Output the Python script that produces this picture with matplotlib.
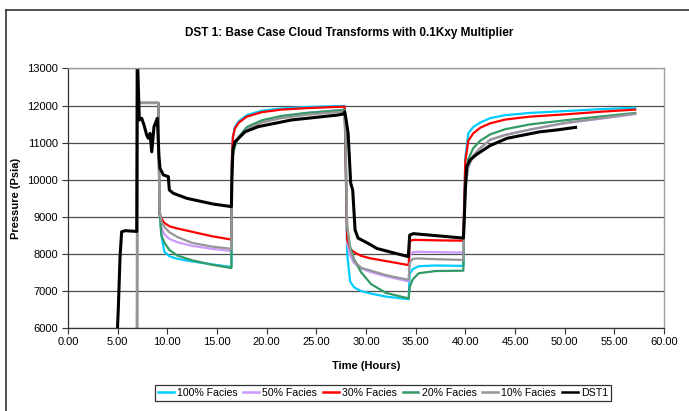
import matplotlib
matplotlib.use("Agg")
import matplotlib.pyplot as plt
from matplotlib.lines import Line2D

plt.rcParams['font.family'] = ['Liberation Sans', 'DejaVu Sans']

# ---------------- data ----------------
t_sim = [6.95, 6.96, 9.10, 9.20, 9.40, 9.70, 10.2, 11.0, 12.5, 14.5, 16.45,
         16.5, 16.6, 16.8, 17.2, 18.0, 19.5, 21.5, 24.0, 27.85,
         27.95, 28.1, 28.4, 28.8, 29.5, 30.5, 32.0, 34.3,
         34.4, 34.7, 35.3, 37.0, 39.8,
         39.9, 40.0, 40.3, 40.8, 41.5, 42.5, 44.0, 46.5, 50.0, 53.5, 57.1]

p_100 = [5900, 12070, 12070, 9300, 8500, 8050, 7930, 7860, 7790, 7710, 7640,
         10500, 11150, 11420, 11580, 11740, 11860, 11920, 11960, 11990,
         10500, 8000, 7250, 7090, 6990, 6920, 6840, 6770,
         7450, 7580, 7660, 7680, 7670,
         9500, 10600, 11250, 11420, 11540, 11660, 11740, 11800, 11850, 11900, 11940]

p_50 = [5900, 12070, 12070, 9100, 8700, 8520, 8400, 8310, 8210, 8130, 8070,
        10450, 10850, 11000, 11150, 11360, 11560, 11700, 11800, 11890,
        10600, 8300, 7950, 7750, 7600, 7500, 7390, 7250,
        7950, 8040, 8050, 8040, 8030,
        9000, 9800, 10340, 10640, 10850, 11070, 11210, 11350, 11520, 11640, 11770]

p_30 = [5900, 12070, 12070, 9100, 8950, 8830, 8740, 8680, 8590, 8470, 8380,
        10600, 11150, 11380, 11540, 11700, 11820, 11890, 11930, 11970,
        10500, 8400, 8130, 8040, 7940, 7870, 7800, 7690,
        8330, 8370, 8370, 8360, 8350,
        9500, 10500, 11050, 11250, 11400, 11520, 11620, 11700, 11760, 11830, 11890]

p_20 = [5900, 12070, 12070, 9200, 8500, 8300, 8100, 7950, 7820, 7700, 7610,
        10300, 10650, 10900, 11150, 11420, 11600, 11720, 11800, 11880,
        10800, 8700, 8190, 7850, 7500, 7180, 6940, 6790,
        7100, 7300, 7470, 7530, 7540,
        9000, 9800, 10550, 10850, 11050, 11220, 11360, 11490, 11600, 11700, 11800]

p_10 = [5900, 12070, 12070, 9200, 8880, 8720, 8580, 8450, 8290, 8190, 8130,
        10400, 10800, 11000, 11120, 11350, 11540, 11660, 11750, 11840,
        11000, 8800, 8100, 7800, 7620, 7540, 7420, 7290,
        7750, 7860, 7870, 7850, 7830,
        9000, 9800, 10350, 10650, 10850, 11080, 11200, 11350, 11530, 11650, 11780]

t_dst = [4.95, 5.06, 5.24, 5.40, 5.74, 6.92, 6.97, 7.18, 7.42, 7.65, 7.92, 8.09,
         8.26, 8.43, 8.66, 8.99, 9.16, 9.26, 9.60, 10.1, 10.2, 10.6, 11.95, 14.6,
         16.45, 16.5, 16.6, 16.81, 17.82, 19.16, 22.5, 27.2, 27.7, 27.86,
         27.95, 28.2, 28.46, 28.66, 28.7, 28.9, 29.2, 30.2, 31.1, 32.5, 34.26,
         34.4, 34.76, 39.8, 39.9, 40.0, 40.14, 40.47, 41.14, 42.5, 44.2, 45.8,
         47.5, 49.2, 51.1]
p_dst = [5800, 6480, 7920, 8590, 8620, 8600, 13500, 11610, 11655, 11475, 11205, 11115,
         11250, 10750, 11430, 11655, 10620, 10305, 10125, 10080, 9720, 9630, 9495, 9340,
         9270, 10000, 10800, 11020, 11290, 11430, 11610, 11745, 11770, 11830,
         11700, 11250, 9900, 9720, 9540, 8640, 8420, 8280, 8140, 8040, 7920,
         8500, 8540, 8420, 9000, 9720, 10350, 10530, 10680, 10920, 11115, 11200,
         11290, 11340, 11410]

labels = ['100% Facies', '50% Facies', '30% Facies', '20% Facies', '10% Facies', 'DST1']
colors = ['#00CCFF', '#CC99FF', '#FF0000', '#339966', '#969696', '#000000']

x_ticks = [0, 5, 10, 15, 20, 25, 30, 35, 40, 45, 50, 55, 60]
y_ticks = [6000, 7000, 8000, 9000, 10000, 11000, 12000, 13000]

# ---------------- figure ----------------
fig = plt.figure(figsize=(6.89, 4.11), dpi=100)
ax = fig.add_axes([68/689, 1-327.7/411, (664-68)/689, (327.7-68.5)/411])

series = [p_100, p_50, p_30, p_20, p_10]
for p, lab, c in zip(series, labels[:5], colors[:5]):
    ax.plot(t_sim, p, color=c, lw=1.6, label=lab, solid_joinstyle='round')
ax.plot(t_dst, p_dst, color=colors[5], lw=2.2, label=labels[5], solid_joinstyle='round')

ax.set_xlim(0, 60)
ax.set_ylim(6000, 13000)
ax.set_xticks(x_ticks)
ax.set_xticklabels([f"{v:.2f}" for v in x_ticks], fontsize=8)
ax.set_yticks(y_ticks)
ax.set_yticklabels([str(v) for v in y_ticks], fontsize=8)
ax.tick_params(direction='out', length=4, width=0.8, color='#333333', pad=3)

ax.yaxis.grid(True, color='#4d4d4d', lw=0.9)
ax.set_axisbelow(True)
for s in ['top', 'right']:
    ax.spines[s].set_color('#a0a0a0')
    ax.spines[s].set_linewidth(1.0)
for s in ['left', 'bottom']:
    ax.spines[s].set_color('#333333')
    ax.spines[s].set_linewidth(0.9)

fig.text(349/689, 1-33/411, 'DST 1: Base Case Cloud Transforms with 0.1Kxy Multiplier',
         ha='center', va='center', fontsize=8.5, fontweight='bold')
fig.text(366/689, 1-366/411, 'Time (Hours)', ha='center', va='center',
         fontsize=8, fontweight='bold')
fig.text(16/689, 1-198/411, 'Pressure (Psia)', ha='center', va='center',
         fontsize=8, fontweight='bold', rotation=90)

leg = fig.legend(loc='center', bbox_to_anchor=(383/689, 1-393/411), ncol=6,
                 fontsize=7.6, frameon=True, fancybox=False, handlelength=1.5,
                 handletextpad=0.3, columnspacing=0.55, borderpad=0.3,
                 borderaxespad=0)
leg.get_frame().set_edgecolor('#000000')
leg.get_frame().set_linewidth(0.9)
for h in leg.get_lines():
    h.set_linewidth(1.8)

# outer chart frame (left and top edges visible)
fig.add_artist(Line2D([6/689, 6/689], [0, 1-10/411], transform=fig.transFigure,
                      color='#333333', lw=1.2))
fig.add_artist(Line2D([6/689, 1], [1-10/411, 1-10/411], transform=fig.transFigure,
                      color='#333333', lw=1.2))

fig.savefig('out.png', dpi=100)
